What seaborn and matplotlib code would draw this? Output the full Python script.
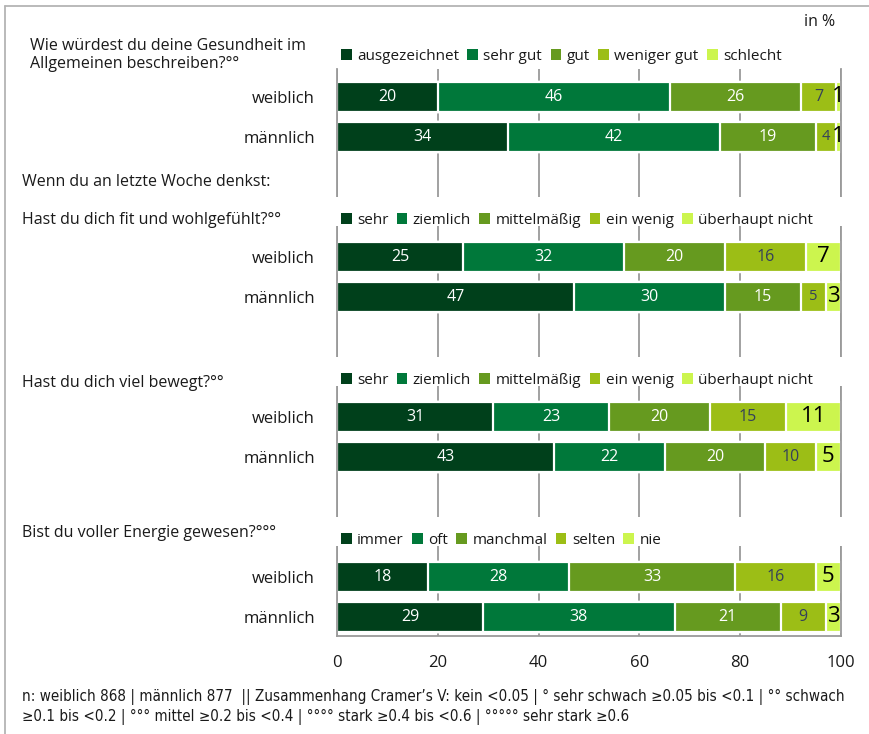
import matplotlib
matplotlib.use("Agg")
import numpy as np
import pandas as pd
import matplotlib.pyplot as plt
import seaborn as sns
from matplotlib.patches import Patch, Rectangle
from matplotlib.lines import Line2D
from matplotlib.legend import Legend

# data (in %)
sexes = ["weiblich", "männlich"]
questions = [
    "Wie würdest du deine Gesundheit im\nAllgemeinen beschreiben?°°",
    "Hast du dich fit und wohlgefühlt?°°",
    "Hast du dich viel bewegt?°°",
    "Bist du voller Energie gewesen?°°°",
]
legend_health = ["ausgezeichnet", "sehr gut", "gut", "weniger gut", "schlecht"]
legend_amount = ["sehr", "ziemlich", "mittelmäßig", "ein wenig", "überhaupt nicht"]
legend_freq = ["immer", "oft", "manchmal", "selten", "nie"]
legends = [legend_health, legend_amount, legend_amount, legend_freq]

gesundheit_w = [20, 46, 26, 7, 1]
gesundheit_m = [34, 42, 19, 4, 1]
fit_w = [25, 32, 20, 16, 7]
fit_m = [47, 30, 15, 5, 3]
bewegt_w = [31, 23, 20, 15, 11]
bewegt_m = [43, 22, 20, 10, 5]
energie_w = [18, 28, 33, 16, 5]
energie_m = [29, 38, 21, 9, 3]
panels = [(gesundheit_w, gesundheit_m), (fit_w, fit_m),
          (bewegt_w, bewegt_m), (energie_w, energie_m)]

colors = ["#00401b", "#00783a", "#669a1f", "#9cbe16", "#ccf54e"]

# long table: one row per segment, y = row position (4 rows per panel)
rows = []
for p, pair in enumerate(panels):
    for si, vals in enumerate(pair):
        cum = np.cumsum(vals)
        for k, v in enumerate(vals):
            rows.append(dict(panel=p, sex=sexes[si], k=k, value=v,
                             start=cum[k] - v, end=cum[k], y=4 * p + 1 + si))
df = pd.DataFrame(rows)

sns.set_theme(style="white")
plt.rcParams['font.family'] = ['Open Sans', 'DejaVu Sans']
plt.rcParams['text.color'] = '#1a1a1a'

W, H = 869, 734
fig = plt.figure(figsize=(W / 100, H / 100), dpi=100)
ax = fig.add_axes([337 / W, 1 - 636 / H, (841 - 337) / W, (636 - 69) / H])

# stacked bars: draw cumulative totals from widest to narrowest
for k in reversed(range(5)):
    sub = df[df.k == k]
    sns.barplot(data=sub, x="end", y="y", orient="y", native_scale=True,
                color=colors[k], saturation=1, width=0.75, errorbar=None,
                edgecolor="white", linewidth=1.6, ax=ax)

# segment labels
for _, r in df.iterrows():
    xc = r.start + r.value / 2
    if r.k < 3:
        ax.text(xc, r.y, str(r.value), color="white", ha="center", va="center", fontsize=11.5, zorder=6)
    elif r.k == 3:
        ax.text(xc, r.y, str(r.value), color="#34405a", ha="center", va="center",
                fontsize=11.5 if r.value >= 7 else 10.5, zorder=6)
    else:
        ax.text(xc, r.y, str(r.value), color="black", ha="center", va="center", fontsize=16, zorder=6)

ax.set_xlim(0, 100)
ax.set_ylim(14.475, 0.3)
ax.set_xticks([0, 20, 40, 60, 80, 100])
ax.set_yticks(df.y.unique())
ax.set_yticklabels(sexes * 4)
ax.set_xlabel("")
ax.set_ylabel("")
ax.tick_params(axis="y", length=0, pad=16, labelsize=12, labelcolor="#1a1a1a")
ax.tick_params(axis="x", length=0, pad=14, labelsize=12, labelcolor="#1a1a1a")
ax.xaxis.grid(True, color="#9a9a9a", lw=1.3)
ax.yaxis.grid(False)
ax.set_axisbelow(True)
for side in ["left", "right", "bottom"]:
    ax.spines[side].set_color("#9a9a9a")
    ax.spines[side].set_linewidth(1.3)
ax.spines["top"].set_visible(False)

# white bands behind the legends of panels 2-4
for p in range(1, 4):
    ax.add_patch(Rectangle((-0.01, 4 * p - 0.5), 1.02, 0.72, transform=ax.get_yaxis_transform(),
                           facecolor="white", edgecolor="none", zorder=3, clip_on=False))

# one legend per panel (built directly so none is drawn twice)
for p, labels in enumerate(legends):
    handles = [Patch(facecolor=c, edgecolor="none") for c in colors]
    ly = -0.02 if p == 0 else 4 * p + 0.08
    leg = Legend(ax, handles, labels, ncol=5, loc="center left", bbox_to_anchor=(0, ly),
                 bbox_transform=ax.get_yaxis_transform(), frameon=False,
                 handlelength=0.7, handleheight=0.7, handletextpad=0.35,
                 columnspacing=0.55, borderaxespad=0, borderpad=0.25, fontsize=11)
    leg.set_zorder(5)
    ax.add_artist(leg)

# question texts on the left
def px(x, y):
    return x / W, 1 - y / H

fig.text(*px(30, 55), questions[0], fontsize=11.5, va="center", linespacing=1.2)
fig.text(*px(22, 182), "Wenn du an letzte Woche denkst:", fontsize=11.5, va="center")
fig.text(*px(22, 220), questions[1], fontsize=11.5, va="center")
fig.text(*px(22, 383), questions[2], fontsize=11.5, va="center")
fig.text(*px(22, 533), questions[3], fontsize=11.5, va="center")
fig.text(*px(835, 22), "in %", fontsize=11.5, va="center", ha="right")

# frame lines (left and top)
fig.add_artist(Line2D([5 / W, 5 / W], [0, 1 - 6 / H], color="#b4b4b4", lw=1.3, transform=fig.transFigure))
fig.add_artist(Line2D([5 / W, 1], [1 - 6 / H, 1 - 6 / H], color="#b4b4b4", lw=1.3, transform=fig.transFigure))

# footnote in a condensed face
note1 = ("n: weiblich 868 | männlich 877  || Zusammenhang Cramer’s V: kein <0.05 | ° sehr schwach "
         "≥0.05 bis <0.1 | °° schwach")
note2 = "≥0.1 bis <0.2 | °°° mittel ≥0.2 bis <0.4 | °°°° stark ≥0.4 bis <0.6 | °°°°° sehr stark ≥0.6"
t1 = fig.text(*px(22, 697), note1, fontsize=10, va="center", family="DejaVu Sans", fontstretch="condensed")
t2 = fig.text(*px(22, 717), note2, fontsize=10, va="center", family="DejaVu Sans", fontstretch="condensed")
fig.canvas.draw()
w = t1.get_window_extent().width
scale = 820 / w
t1.set_fontsize(10 * scale)
t2.set_fontsize(10 * scale)

fig.savefig("out.png", dpi=100)
